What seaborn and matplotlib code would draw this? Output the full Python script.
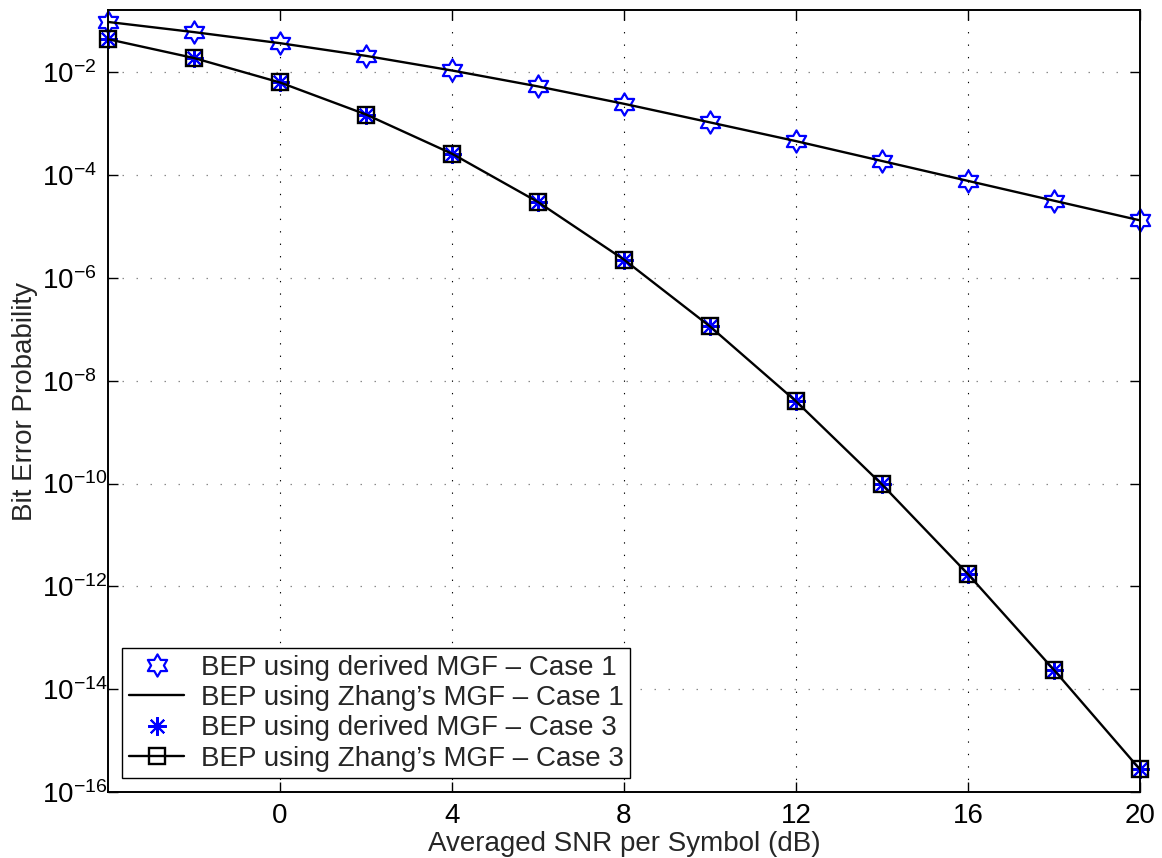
import numpy as np
import pandas as pd
import matplotlib
matplotlib.use("Agg")
import matplotlib.pyplot as plt
from matplotlib.path import Path
from matplotlib.ticker import FixedLocator, LogFormatterMathtext, NullLocator
import seaborn as sns

# Averaged SNR per symbol (dB)
snr_db = [-4, -2, 0, 2, 4, 6, 8, 10, 12, 14, 16, 18, 20]

# Bit error probability, case 1 (derived MGF and Zhang's MGF coincide)
bep_case1 = [9.3e-2, 5.9e-2, 3.6e-2, 2.04e-2, 1.06e-2, 5.2e-3, 2.39e-3,
             1.04e-3, 4.5e-4, 1.85e-4, 7.6e-5, 3.13e-5, 1.30e-5]

# Bit error probability, case 3 (derived MGF and Zhang's MGF coincide)
bep_case3 = [4.3e-2, 1.85e-2, 6.2e-3, 1.48e-3, 2.56e-4, 2.95e-5, 2.24e-6,
             1.13e-7, 3.97e-9, 9.6e-11, 1.74e-12, 2.4e-14, 2.8e-16]

labels = [
    "BEP using derived MGF \u2013 Case 1",
    "BEP using Zhang\u2019s MGF \u2013 Case 1",
    "BEP using derived MGF \u2013 Case 3",
    "BEP using Zhang\u2019s MGF \u2013 Case 3",
]

x_ticks = [0, 4, 8, 12, 16, 20]
y_ticks = [1e-16, 1e-14, 1e-12, 1e-10, 1e-8, 1e-6, 1e-4, 1e-2]

sns.set_theme(style="white")
plt.rcParams["font.family"] = ["Liberation Sans", "DejaVu Sans"]
plt.rcParams["mathtext.fontset"] = "custom"
plt.rcParams["mathtext.rm"] = "Liberation Sans"
plt.rcParams["mathtext.it"] = "Liberation Sans:italic"
plt.rcParams["mathtext.bf"] = "Liberation Sans:bold"
plt.rcParams["mathtext.default"] = "regular"

FS = 20

df1 = pd.DataFrame({"snr": snr_db, "bep": bep_case1})
df3 = pd.DataFrame({"snr": snr_db, "bep": bep_case3})

# six-pointed star (hexagram) and eight-spoke asterisk markers
hexagram = Path.unit_regular_star(6, 1 / np.sqrt(3))
asterisk = (8, 2, 0)

fig = plt.figure(figsize=(11.62, 8.58), dpi=100)
ax = fig.add_axes([0.093, 0.0765, 0.888, 0.9118])
ax.set_yscale("log")

blue = (0, 0, 1)
sns.lineplot(data=df1, x="snr", y="bep", ax=ax, estimator=None, sort=False,
             linestyle="none", marker=hexagram, markersize=16,
             markerfacecolor="none", markeredgecolor=blue, markeredgewidth=1.6,
             color=blue, label=labels[0], clip_on=False, zorder=3)
sns.lineplot(data=df1, x="snr", y="bep", ax=ax, estimator=None, sort=False,
             color="black", linewidth=1.7, label=labels[1], zorder=4)
sns.lineplot(data=df3, x="snr", y="bep", ax=ax, estimator=None, sort=False,
             linestyle="none", marker=asterisk, markersize=13.5,
             markeredgecolor=blue, markeredgewidth=1.5, color=blue,
             label=labels[2], clip_on=False, zorder=3)
sns.lineplot(data=df3, x="snr", y="bep", ax=ax, estimator=None, sort=False,
             color="black", linewidth=1.7, marker="s", markersize=12,
             markerfacecolor="none", markeredgecolor="black",
             markeredgewidth=1.7, label=labels[3], clip_on=False, zorder=4)

ax.set_xlim(-4, 20)
ax.set_ylim(1e-16, 10 ** -0.8)
ax.xaxis.set_major_locator(FixedLocator(x_ticks))
ax.yaxis.set_major_locator(FixedLocator(y_ticks))
ax.yaxis.set_minor_locator(NullLocator())
ax.yaxis.set_major_formatter(LogFormatterMathtext())

ax.xaxis.grid(True, color="black", linewidth=0.8, linestyle=(0, (1.2, 10)))
ax.yaxis.grid(True, color="#8a8a8a", linewidth=0.9, linestyle=(0, (1.2, 10)))
ax.set_axisbelow(True)
ax.tick_params(which="major", direction="in", length=7.5, width=1,
               top=True, right=True, bottom=True, left=True,
               labelsize=FS, colors="black")
ax.tick_params(axis="x", pad=8)
# the "10" of every power label starts at the same place; exponents run right
ax.tick_params(axis="y", pad=47.5)
for lab in ax.get_yticklabels():
    lab.set_horizontalalignment("left")
for side in ax.spines.values():
    side.set_color("black")
    side.set_linewidth(1.4)
    side.set_zorder(5)

ax.set_xlabel("Averaged SNR per Symbol (dB)", fontsize=FS)
ax.xaxis.label.set_verticalalignment("baseline")
ax.xaxis.set_label_coords(0.5, -0.0754)
ax.set_ylabel("Bit Error Probability", fontsize=FS)
ax.yaxis.set_label_coords(-0.068, 0.5)

leg = ax.legend(loc="lower left", fontsize=FS, frameon=True, fancybox=False,
                framealpha=1, edgecolor="black", borderaxespad=0.5,
                handlelength=2.0, handletextpad=0.58, labelspacing=0.15,
                borderpad=0.25)
leg.get_frame().set_linewidth(1.0)
leg.set_zorder(10)

fig.savefig("out.png", dpi=100, facecolor="white")
